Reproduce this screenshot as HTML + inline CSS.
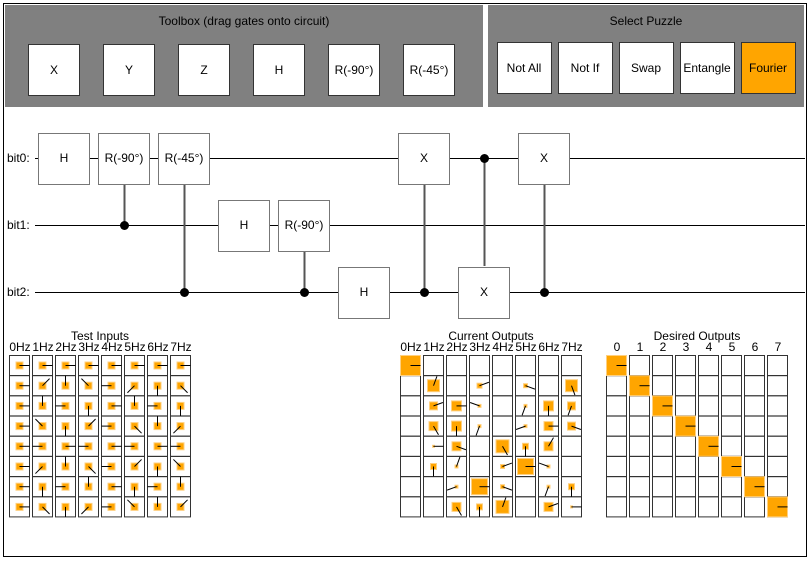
<!DOCTYPE html>
<html><head><meta charset="utf-8"><style>
body{margin:0;background:#fff;}
svg{display:block;font-family:"Liberation Sans",sans-serif;}
</style></head><body>
<svg id="s" width="810" height="561" xmlns="http://www.w3.org/2000/svg">
<rect x="3.5" y="3.5" width="803" height="553" fill="#fff" stroke="#000"/>
<rect x="5" y="5" width="478" height="102" fill="#808080"/>
<rect x="488" y="5" width="316" height="102" fill="#808080"/>
<text x="244" y="25" font-size="12" text-anchor="middle">Toolbox (drag gates onto circuit)</text>
<text x="646" y="25" font-size="12" text-anchor="middle">Select Puzzle</text>
<g id="g"></g>
</svg>
<script>
var g=document.getElementById('g'),h='';
function R(x,y,w,hh,f,st){h+='<rect x="'+(x+.5)+'" y="'+(y+.5)+'" width="'+w+'" height="'+hh+'" fill="'+f+'" stroke="'+st+'"/>';}
function T(x,y,t,s,a){h+='<text x="'+x+'" y="'+y+'" font-size="'+(s||12)+'" text-anchor="'+(a||'middle')+'">'+t+'</text>';}
function L(x1,y1,x2,y2,c,w){h+='<line x1="'+x1+'" y1="'+y1+'" x2="'+x2+'" y2="'+y2+'" stroke="'+(c||'#000')+'" stroke-width="'+(w||1)+'"/>';}
// toolbox
[['X',28],['Y',103],['Z',178],['H',253],['R(-90°)',328],['R(-45°)',403]].forEach(function(b){R(b[1],44,51,51,'#fff','#333');T(b[1]+26,74,b[0]);});
[['Not All',497],['Not If',558],['Swap',619],['Entangle',680],['Fourier',741]].forEach(function(b){R(b[1],42,54,51,b[0]=='Fourier'?'#ffa500':'#fff','#333');T(b[1]+27,72,b[0]);});
// wires
var wy=[158,225,292];
wy.forEach(function(y,i){L(35,y+.5,805,y+.5,'#000');T(7,y+4,'bit'+i+':',12,'start');});
// control lines
function C(x,y1,y2){L(x+.5,y1,x+.5,y2,'#555',2);h+='<circle cx="'+(x+.5)+'" cy="'+(y2+.5)+'" r="4.5" fill="#000"/>';}
C(124,184,225);C(184,184,292);C(304,251,292);C(424,184,292);C(484,266,158);C(544,184,292);
function G(x,y,t){R(x,y-25,51,51,'#fff','#777');T(x+26,y+4,t);}
G(38,158,'H');G(98,158,'R(-90°)');G(158,158,'R(-45°)');G(218,225,'H');G(278,225,'R(-90°)');G(338,292,'H');
G(398,158,'X');G(458,292,'X');G(518,158,'X');
function grid(x0,title,hz,labels){T(x0+91,340,title);for(var c=0;c<8;c++){T(x0+11+c*23,351,labels[c]);for(var r=0;r<8;r++)R(x0+c*23,355+r*20.2,20,20,'#fff','#333');}}
function amp(x0,c,r,s,a){var cx=x0+c*23+10.5,cy=355+r*20.2+10.5;
 h+='<rect x="'+(cx-s/2)+'" y="'+(cy-s/2)+'" width="'+s+'" height="'+s+'" fill="#ffa500" stroke="#ffd080" stroke-width="1"/>';
 var rad=a*Math.PI/180;L(cx,cy,cx+10*Math.cos(rad),cy-10*Math.sin(rad),'#000',1);}
var hzl=['0Hz','1Hz','2Hz','3Hz','4Hz','5Hz','6Hz','7Hz'];
grid(9,'Test Inputs',1,hzl);
for(var r=0;r<8;r++)for(var c=0;c<8;c++)amp(9,c,r,7,45*r*c);
grid(400,'Current Outputs',1,hzl);
[[0,0,20,0],[1,1,12,70],[1,3,5,20],[1,5,4,-20],[1,7,12,-70],
[2,1,8,20],[2,2,10,0],[2,3,3,160],[2,5,3,-110],[2,6,10,-90],[2,7,8,-110],
[3,1,9,-60],[3,2,10,-90],[3,3,3,-110],[3,5,3,200],[3,6,9,0],[3,7,8,-20],
[4,1,2,0],[4,2,9,-20],[4,4,13,-60],[4,5,6,-90],[4,6,9,60],
[5,1,6,-90],[5,2,3,70],[5,4,4,20],[5,5,16,0],[5,6,3,160],
[6,2,3,200],[6,3,16,0],[6,4,4,-20],[6,6,3,-110],[6,7,6,-90],
[7,2,9,-60],[7,3,6,-90],[7,4,13,70],[7,6,9,20],[7,7,2,0]].forEach(function(a){amp(400,a[1],a[0],a[2],a[3]);});
grid(606,'Desired Outputs',1,['0','1','2','3','4','5','6','7']);
for(var i=0;i<8;i++)amp(606,i,i,20,0);
g.innerHTML=h;
</script>
</body></html>
